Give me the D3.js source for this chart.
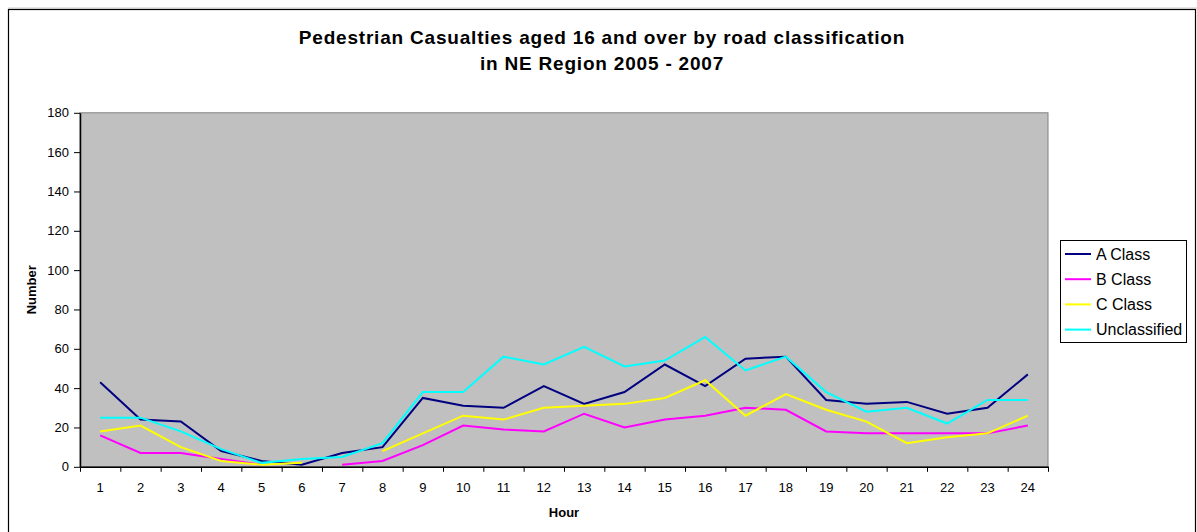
<!DOCTYPE html>
<html>
<head>
<meta charset="utf-8">
<script src="https://cdn.jsdelivr.net/npm/d3@7/dist/d3.min.js"></script>
<style>
  html, body { margin: 0; padding: 0; background: #fff; }
  svg { display: block; font-family: "Liberation Sans", Arial, sans-serif; }
</style>
</head>
<body>
<svg id="chart" width="1197" height="532"></svg>
<script>
const hours = ["1","2","3","4","5","6","7","8","9","10","11","12","13","14","15","16","17","18","19","20","21","22","23","24"];
const aClass = [43, 24, 23, 8, 3, 1, 7, 10, 35, 31, 30, 41, 32, 38, 52, 41, 55, 56, 34, 32, 33, 27, 30, 47];
const bClass = [16, 7, 7, 4, 1, null, 1, 3, 11, 21, 19, 18, 27, 20, 24, 26, 30, 29, 18, 17, 17, 17, 17, 21];
const cClass = [18, 21, 10, 3, 1, 2, null, 8, 17, 26, 24, 30, 31, 32, 35, 44, 26, 37, 29, 23, 12, 15, 17, 26];
const unclassified = [25, 25, 18, 9, 2, 4, 5, 12, 38, 38, 56, 52, 61, 51, 54, 66, 49, 56, 38, 28, 30, 22, 34, 34];
const seriesNames = ["A Class", "B Class", "C Class", "Unclassified"];
const seriesColors = ["#000080", "#FF00FF", "#FFFF00", "#00FFFF"];
const yTicks = [0, 20, 40, 60, 80, 100, 120, 140, 160, 180];
const titleLines = ["Pedestrian Casualties aged 16 and over by road classification", "in NE Region 2005 - 2007"];

const seriesValues = [aClass, bClass, cClass, unclassified];

const svg = d3.select("#chart");
const plot = { left: 80, right: 1048, top: 112.8, bottom: 466.8 };

// Outer chart border
svg.append("line").attr("x1", 8).attr("x2", 1197).attr("y1", 8).attr("y2", 8)
  .attr("stroke", "#c8c8c8").attr("stroke-width", 1);
svg.append("rect").attr("x", 8.5).attr("y", 9.5).attr("width", 1187).attr("height", 540)
  .attr("fill", "none").attr("stroke", "#000").attr("stroke-width", 1.2);

const x = d3.scaleBand().domain(hours).range([plot.left, plot.right]).padding(0);
const xEdge = d3.scaleLinear().domain([0, hours.length]).range([plot.left, plot.right]);
const y = d3.scaleLinear().domain([0, 180]).range([plot.bottom, plot.top]);

// Plot background
svg.append("rect").attr("x", plot.left).attr("y", plot.top)
  .attr("width", plot.right - plot.left).attr("height", plot.bottom - plot.top)
  .attr("fill", "#C0C0C0").attr("stroke", "#808080").attr("stroke-width", 1);

// Title
const title = svg.append("text").attr("text-anchor", "middle")
  .attr("font-weight", "bold").attr("font-size", "19px").attr("letter-spacing", "0.8px").attr("fill", "#000");
titleLines.forEach((t, i) => {
  title.append("tspan").attr("x", 602).attr("y", 44 + i * 26).text(t);
});

// Y axis
const yAxis = svg.append("g").attr("transform", `translate(${plot.left},0)`)
  .call(d3.axisLeft(y).tickValues(yTicks).tickSize(6).tickPadding(5).tickSizeOuter(0));
yAxis.selectAll("text").attr("font-size", "13px").attr("fill", "#000")
  .attr("font-family", "Liberation Sans, Arial, sans-serif");
yAxis.select(".domain").attr("stroke", "#000").attr("stroke-width", 1.5);
yAxis.selectAll(".tick line").attr("stroke", "#000");

// X axis ticks at boundaries
const xTickAxis = svg.append("g").attr("transform", `translate(0,${plot.bottom})`)
  .call(d3.axisBottom(xEdge).tickValues(d3.range(0, hours.length + 1))
    .tickSize(5).tickSizeOuter(0).tickFormat(""));
xTickAxis.select(".domain").attr("stroke", "#000").attr("stroke-width", 1.5);
xTickAxis.selectAll(".tick line").attr("stroke", "#000");

// X labels
const xLabelAxis = svg.append("g").attr("transform", `translate(0,${plot.bottom})`)
  .call(d3.axisBottom(x).tickSize(0).tickPadding(16));
xLabelAxis.select(".domain").remove();
xLabelAxis.selectAll("text").attr("font-size", "13px").attr("fill", "#000")
  .attr("font-family", "Liberation Sans, Arial, sans-serif");

// Axis titles
svg.append("text").attr("x", (plot.left + plot.right) / 2).attr("y", 517)
  .attr("text-anchor", "middle").attr("font-weight", "bold").attr("font-size", "13px").text("Hour");
svg.append("text").attr("transform", `translate(36,${(plot.top + plot.bottom) / 2}) rotate(-90)`)
  .attr("text-anchor", "middle").attr("font-weight", "bold").attr("font-size", "13px").text("Number");

// Lines
const line = d3.line()
  .defined(d => d.v !== null)
  .x(d => x(d.h) + x.bandwidth() / 2)
  .y(d => y(d.v));

seriesValues.forEach((vals, i) => {
  const data = hours.map((h, j) => ({ h, v: vals[j] }));
  svg.append("path").datum(data)
    .attr("d", line)
    .attr("fill", "none")
    .attr("stroke", seriesColors[i])
    .attr("stroke-width", 2)
    .attr("stroke-linejoin", "miter");
});

// Legend
const legend = svg.append("g");
legend.append("rect").attr("x", 1060.5).attr("y", 240.5).attr("width", 126).attr("height", 102)
  .attr("fill", "#fff").attr("stroke", "#000").attr("stroke-width", 1);
seriesNames.forEach((name, i) => {
  const cy = 254 + i * 25.2;
  legend.append("line").attr("x1", 1065).attr("x2", 1091).attr("y1", cy).attr("y2", cy)
    .attr("stroke", seriesColors[i]).attr("stroke-width", 2);
  legend.append("text").attr("x", 1096).attr("y", cy).attr("dy", "0.36em")
    .attr("font-size", "16px").attr("fill", "#000").text(name);
});
</script>
</body>
</html>
